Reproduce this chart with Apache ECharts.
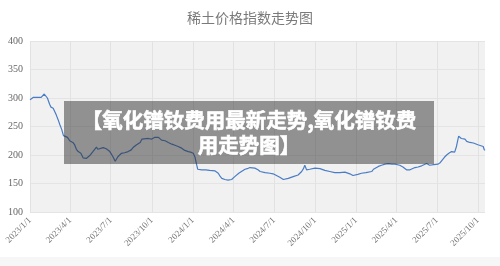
<!DOCTYPE html>
<html>
<head>
<meta charset="utf-8">
<script src="https://cdn.jsdelivr.net/npm/echarts@6/dist/echarts.min.js"></script>
<style>
  html, body { margin: 0; padding: 0; background: #ffffff; }
  #chart { width: 500px; height: 266px; }
</style>
</head>
<body>
<div id="chart"></div>
<script>
// Rare-earth price index, sampled dates and index values
const dates = [
  '2023-01-01','2023-01-03','2023-01-08','2023-01-17','2023-01-26','2023-01-29','2023-02-02','2023-02-05',
  '2023-02-09','2023-02-14','2023-02-17','2023-02-22','2023-03-01','2023-03-05','2023-03-09','2023-03-13',
  '2023-03-17','2023-03-19','2023-03-26','2023-03-31','2023-04-04','2023-04-07','2023-04-11','2023-04-15',
  '2023-04-19','2023-04-25','2023-04-30','2023-05-07','2023-05-15','2023-05-19','2023-05-22','2023-05-30',
  '2023-06-02','2023-06-06','2023-06-14','2023-06-21','2023-06-29','2023-07-03','2023-07-06','2023-07-11',
  '2023-07-14','2023-07-17','2023-07-25','2023-08-01','2023-08-09','2023-08-16','2023-08-20','2023-08-24',
  '2023-08-28','2023-08-31','2023-09-05','2023-09-09','2023-09-13','2023-09-23','2023-10-01','2023-10-08',
  '2023-10-16','2023-10-23','2023-10-31','2023-11-07','2023-11-15','2023-11-22','2023-11-29','2023-12-07',
  '2023-12-14','2023-12-22','2023-12-27','2024-01-02','2024-01-06','2024-01-09','2024-01-12','2024-01-21',
  '2024-01-30','2024-02-08','2024-02-20','2024-02-27','2024-03-02','2024-03-06','2024-03-13','2024-03-20',
  '2024-03-28','2024-04-01','2024-04-04','2024-04-08','2024-04-13','2024-04-19','2024-04-27','2024-05-02',
  '2024-05-08','2024-05-12','2024-05-19','2024-05-26','2024-05-31','2024-06-11','2024-06-22','2024-06-29',
  '2024-07-03','2024-07-14','2024-07-22','2024-07-25','2024-08-02','2024-08-13','2024-08-24','2024-09-01',
  '2024-09-05','2024-09-08','2024-09-12','2024-09-19','2024-10-01','2024-10-12','2024-10-23','2024-11-03',
  '2024-11-14','2024-11-26','2024-12-07','2024-12-18','2024-12-25','2024-12-29','2025-01-05','2025-01-13',
  '2025-01-23','2025-02-05','2025-02-09','2025-02-12','2025-02-20','2025-02-27','2025-03-07','2025-03-14',
  '2025-03-22','2025-03-29','2025-04-09','2025-04-16','2025-04-24','2025-05-02','2025-05-13','2025-05-20',
  '2025-05-28','2025-06-02','2025-06-08','2025-06-15','2025-06-24','2025-07-04','2025-07-09','2025-07-13',
  '2025-07-18','2025-07-23','2025-07-28','2025-08-03','2025-08-10','2025-08-14','2025-08-17','2025-08-19',
  '2025-08-23','2025-08-25','2025-08-29','2025-09-02','2025-09-06','2025-09-09','2025-09-13','2025-09-17',
  '2025-09-21','2025-09-24','2025-10-01','2025-10-05','2025-10-13','2025-10-15','2025-10-17'
];
const indexValues = [
  297,298,301,301,301,303,307,306,
  300,289,284,282,270,262,253,245,
  234,233,231,225,226,222,218,210,
  206,203,195,194,199,201,206,214,
  210,212,213,211,206,203,197,189,
  193,197,203,204,206,209,213,215,
  218,221,222,228,229,229,228,231,
  231,226,225,222,219,217,215,212,
  208,206,205,203,196,185,175,174,
  174,173,172,168,163,159,157,156,
  157,158,162,165,168,171,175,176,
  178,180,177,174,171,169,168,167,
  165,161,157,158,159,162,165,171,
  176,182,174,175,177,176,173,171,
  169,169,170,167,164,165,166,168,
  169,171,175,178,180,182,184,185,
  184,184,182,179,174,174,178,179,
  181,183,185,182,183,184,187,191,
  196,200,203,206,205,215,226,233,
  230,229,226,228,224,223,222,220,
  221,219,218,217,215,210,208
];

// Quarterly date ticks on the x axis, and the value ticks on the y axis
const quarterTicks = [
  '2023-01-01','2023-04-01','2023-07-01','2023-10-01',
  '2024-01-01','2024-04-01','2024-07-01','2024-10-01',
  '2025-01-01','2025-04-01','2025-07-01','2025-10-01'
];
const yTicks = [100, 150, 200, 250, 300, 350, 400];

const chartTitle = '稀土价格指数走势图';
const bannerText = '【氧化镨钕费用最新走势,氧化镨钕费\n用走势图】';

function toTime(s) {
  const p = s.split('-').map(Number);
  return Date.UTC(p[0], p[1] - 1, p[2]);
}

const chart = echarts.init(document.getElementById('chart'), null, { renderer: 'canvas' });

const seriesData = dates.map((d, i) => [toTime(d), indexValues[i]]);
const tickTimes = quarterTicks.map(toTime);

chart.setOption({
  animation: false,
  backgroundColor: '#ffffff',
  title: {
    text: chartTitle,
    left: 'center',
    top: 6,
    textStyle: {
      fontFamily: '"Noto Sans CJK SC", serif',
      fontSize: 14,
      fontWeight: 'normal',
      color: '#7a7a7a'
    }
  },
  grid: {
    left: 30, right: 15, top: 41, bottom: 54,
    show: true,
    backgroundColor: '#f1f1f1',
    borderWidth: 0
  },
  // Dates are kept as UTC millisecond values on a numeric axis
  xAxis: {
    type: 'value',
    min: toTime('2023-01-01'),
    max: toTime('2025-10-17'),
    axisLine: { show: false },
    axisTick: { show: false, customValues: tickTimes },
    splitLine: { show: true, lineStyle: { color: '#e2e2e2', width: 1 } },
    axisLabel: {
      customValues: tickTimes,
      rotate: 45,
      margin: 7,
      showMinLabel: true,
      showMaxLabel: true,
      fontFamily: '"Liberation Serif", serif',
      fontSize: 9,
      color: '#777777',
      formatter: function (v) {
        const d = new Date(v);
        return d.getUTCFullYear() + '/' + (d.getUTCMonth() + 1) + '/' + d.getUTCDate();
      }
    }
  },
  yAxis: {
    type: 'value',
    min: yTicks[0],
    max: yTicks[yTicks.length - 1],
    interval: 50,
    axisLine: { show: false },
    axisTick: { show: false },
    splitLine: { show: true, lineStyle: { color: '#e4e4e4', width: 1 } },
    axisLabel: {
      margin: 7,
      fontFamily: '"Liberation Serif", serif',
      fontSize: 10,
      color: '#666666'
    }
  },
  series: [{
    type: 'line',
    data: seriesData,
    showSymbol: false,
    lineStyle: { color: '#4a7cc6', width: 1.2 },
    z: 3
  }],
  graphic: [
    {
      type: 'rect',
      shape: { x: 0, y: 257, width: 500, height: 9 },
      style: { fill: '#f6f6f6' },
      z: 0
    },
    {
      type: 'rect',
      shape: { x: 64, y: 101, width: 370, height: 63 },
      style: { fill: 'rgba(40,40,40,0.48)' },
      z: 100
    },
    {
      type: 'text',
      x: 249,
      y: 132.5,
      z: 101,
      style: {
        text: bannerText,
        fill: '#ffffff',
        stroke: '#ffffff',
        lineWidth: 0.6,
        font: 'bold 20.5px "Noto Sans CJK SC", sans-serif',
        lineHeight: 25,
        align: 'center',
        verticalAlign: 'middle'
      }
    }
  ]
});
</script>
</body>
</html>
